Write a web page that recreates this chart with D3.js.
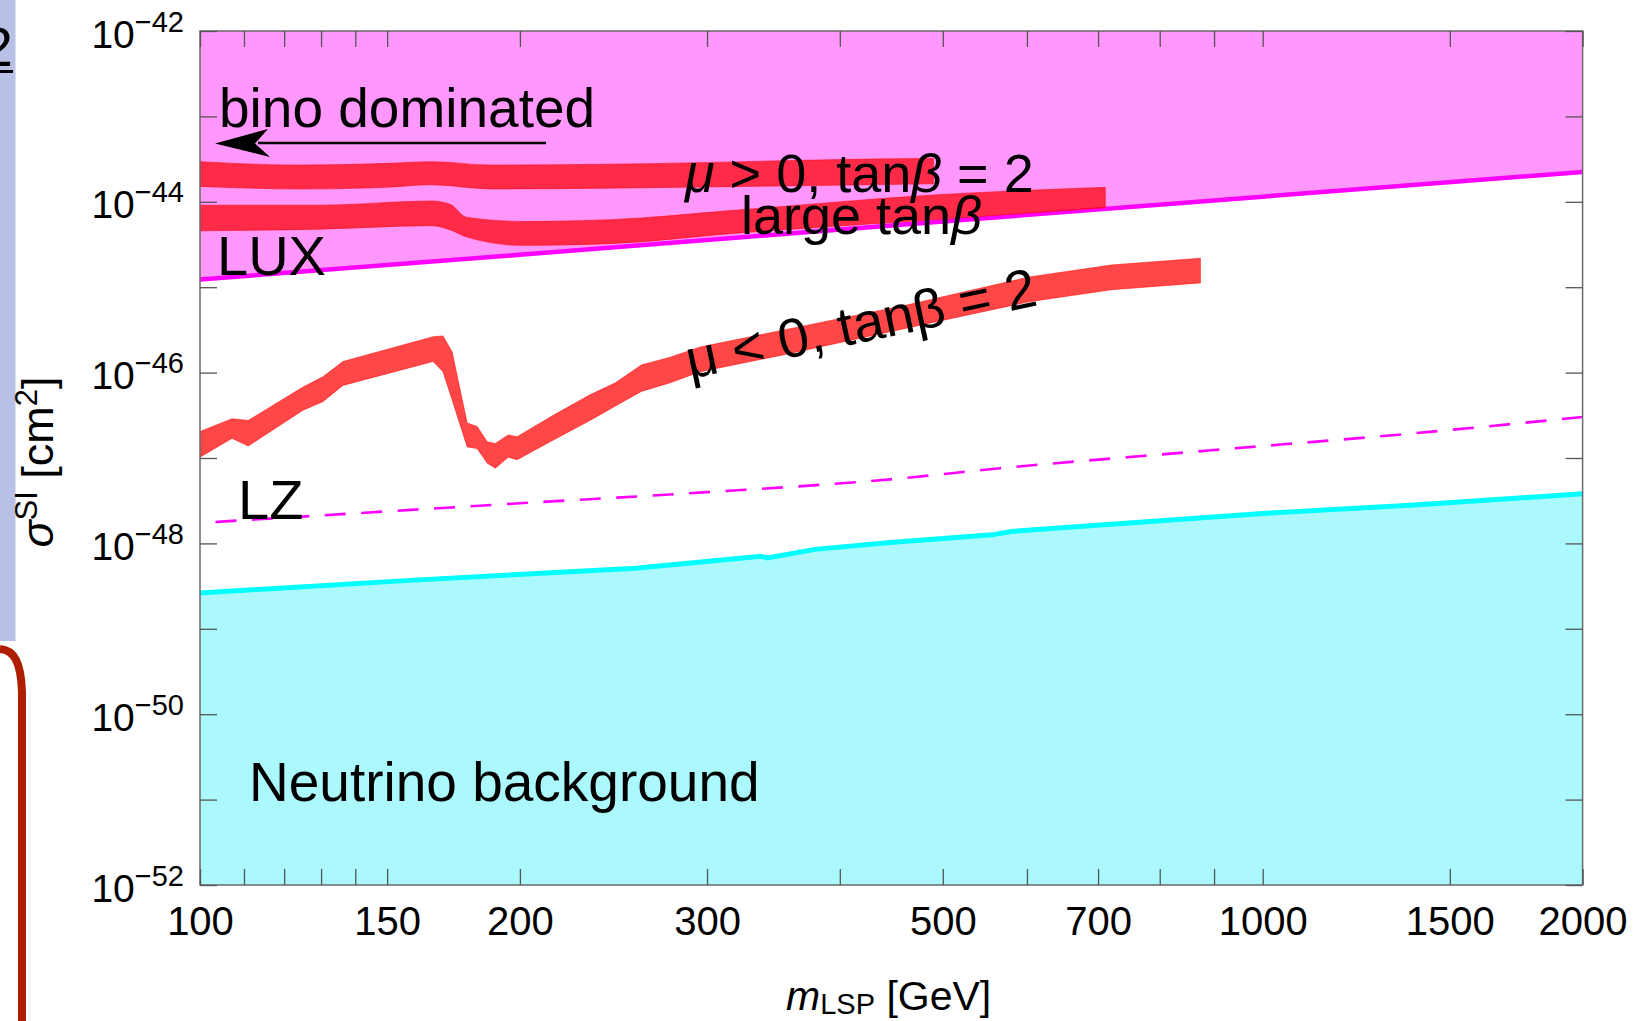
<!doctype html>
<html>
<head>
<meta charset="UTF-8">
<title>SI cross section vs LSP mass</title>
<script src="https://d3js.org/d3.v7.min.js"></script>
<style>
	body { margin: 0; background: #fff; }
	.chart text { font-family: 'Liberation Sans', Arial, Helvetica, sans-serif; fill: #000; }
	.axis line { stroke: #555; stroke-width: 1.3; }
</style>
</head>
<body>
<svg class="chart" width="1638" height="1021"></svg>
<script>
// axis ticks
var massTicks = [100, 110, 120, 130, 140, 150, 200, 300, 400, 500, 600, 700, 800, 900, 1000, 1500, 2000];
var massLabels = [100, 150, 200, 300, 500, 700, 1000, 1500, 2000];
var sigmaTicks = [-52, -51, -50, -49, -48, -47, -46, -45, -44, -43, -42];
var sigmaLabels = [-52, -50, -48, -46, -44, -42];

// limits (log10 of sigma in cm^2)
var luxMass = [100, 200, 500, 1000, 2000];
var luxLog = [-44.91, -44.62, -44.23, -43.94, -43.65];

var lzMass = [100, 200, 300, 446, 566, 894, 1389, 2000];
var lzLog = [-47.76, -47.53, -47.40, -47.25, -47.12, -46.91, -46.71, -46.52];

var nuMass = [100, 159, 257, 337, 342, 379, 446, 556, 580, 1000, 1389, 2000];
var nuLog = [-48.58, -48.43, -48.29, -48.15, -48.17, -48.07, -47.99, -47.90, -47.86, -47.65, -47.55, -47.42];

// bands
var posMass = [100, 124, 150, 165, 188, 243, 424, 490];
var posUpper = [-43.53, -43.57, -43.55, -43.53, -43.57, -43.56, -43.50, -43.49];
var posLower = [-43.82, -43.85, -43.83, -43.80, -43.85, -43.84, -43.80, -43.79];

var largeMass = [100, 130, 165, 172, 178, 201, 243, 318, 490, 711];
var largeUpper = [-44.04, -44.04, -43.99, -44.03, -44.18, -44.23, -44.21, -44.10, -43.92, -43.83];
var largeLower = [-44.34, -44.32, -44.28, -44.33, -44.41, -44.51, -44.49, -44.37, -44.21, -44.07];

var negMass = [100, 107.2, 111, 125, 130.5, 136.3, 165.7, 169.3, 172.7, 178.4, 182.3, 186.3, 189.6, 195, 198.8, 215, 232.8, 246, 260.2, 277, 295.6, 354.6, 461.9, 603.1, 720.4, 873.8];
var negUpper = [-46.69, -46.54, -46.56, -46.17, -46.05, -45.87, -45.58, -45.57, -45.76, -46.59, -46.63, -46.81, -46.83, -46.73, -46.75, -46.50, -46.26, -46.12, -45.91, -45.82, -45.70, -45.50, -45.21, -44.88, -44.74, -44.66];
var negLower = [-46.99, -46.77, -46.86, -46.44, -46.34, -46.15, -45.87, -45.99, -46.32, -46.87, -46.89, -47.06, -47.12, -46.99, -47.02, -46.79, -46.56, -46.39, -46.22, -46.12, -45.99, -45.79, -45.48, -45.17, -45.03, -44.95];

var chart = d3.select('.chart');
var plotLeft = 200, plotRight = 1582.6, plotTop = 31, plotBottom = 885;

var x = d3.scaleLog().domain([100, 2000]).range([plotLeft, plotRight]);
var y = d3.scaleLog().domain([1e-52, 1e-42]).range([plotBottom, plotTop]);

function line(mass, logs) {
	return mass.map(function(m, i) { return [m, Math.pow(10, logs[i])]; });
}
function band(mass, lo, hi) {
	return mass.map(function(m, i) { return {m: m, lo: Math.pow(10, lo[i]), hi: Math.pow(10, hi[i])}; });
}

// slide decorations at the left edge
chart.append('rect').attr('x', 0).attr('y', 0).attr('width', 15.5).attr('height', 641).attr('fill', '#b8c0e5');
chart.append('text').attr('x', 13).attr('y', 66).attr('text-anchor', 'end')
	.attr('font-size', 56).text('2');
chart.append('line').attr('x1', 0).attr('x2', 13).attr('y1', 71.5).attr('y2', 71.5)
	.attr('stroke', '#000').attr('stroke-width', 3);
chart.append('path').attr('d', 'M0,649 C14,650 21,662 22,692 L22,1021')
	.attr('fill', 'none').attr('stroke', '#b01e00').attr('stroke-width', 8);

chart.append('clipPath').attr('id', 'plot')
	.append('rect').attr('x', plotLeft).attr('y', plotTop)
	.attr('width', plotRight - plotLeft).attr('height', plotBottom - plotTop);

var plot = chart.append('g').attr('clip-path', 'url(#plot)');

function lineGen(curve) {
	return d3.line().x(function(d) { return x(d[0]); }).y(function(d) { return y(d[1]); }).curve(curve);
}

// LUX excluded region
plot.append('path')
	.datum(line(luxMass, luxLog))
	.attr('fill', '#ff97fd')
	.attr('d', d3.area().x(function(d) { return x(d[0]); }).y0(function(d) { return y(d[1]); }).y1(plotTop));

// neutrino floor
plot.append('path')
	.datum(line(nuMass, nuLog))
	.attr('fill', '#abf9fc')
	.attr('d', d3.area().x(function(d) { return x(d[0]); }).y0(plotBottom).y1(function(d) { return y(d[1]); }));

plot.append('path')
	.datum(line(luxMass, luxLog))
	.attr('fill', 'none').attr('stroke', '#ff00ff').attr('stroke-width', 4.5)
	.attr('d', lineGen(d3.curveLinear));

plot.append('path')
	.datum(line(nuMass, nuLog))
	.attr('fill', 'none').attr('stroke', '#00ffff').attr('stroke-width', 5)
	.attr('d', lineGen(d3.curveLinear));

plot.append('path')
	.datum(line(lzMass, lzLog))
	.attr('fill', 'none').attr('stroke', '#ff00ff').attr('stroke-width', 2.6)
	.attr('stroke-dasharray', '21,15.5').attr('stroke-dashoffset', 21)
	.attr('d', lineGen(d3.curveMonotoneX));

function areaGen(curve) {
	return d3.area()
		.x(function(d) { return x(d.m); })
		.y0(function(d) { return y(d.lo); })
		.y1(function(d) { return y(d.hi); })
		.curve(curve);
}

var bands = [
	{data: band(posMass, posLower, posUpper), curve: d3.curveMonotoneX},
	{data: band(largeMass, largeLower, largeUpper), curve: d3.curveMonotoneX},
	{data: band(negMass, negLower, negUpper), curve: d3.curveLinear}
];
bands.forEach(function(b) {
	plot.append('path')
		.datum(b.data)
		.attr('fill', '#ff0000').attr('fill-opacity', 0.72)
		.attr('stroke', '#ff0000').attr('stroke-opacity', 0.5).attr('stroke-width', 1)
		.attr('d', areaGen(b.curve));
});

// frame
chart.append('rect')
	.attr('x', plotLeft).attr('y', plotTop)
	.attr('width', plotRight - plotLeft).attr('height', plotBottom - plotTop)
	.attr('fill', 'none').attr('stroke', '#6a6a6a').attr('stroke-width', 1.5);

// axes
var xb = chart.append('g').attr('class', 'axis')
	.attr('transform', 'translate(0,' + plotBottom + ')')
	.call(d3.axisBottom(x).tickValues(massTicks).tickSize(-16).tickPadding(22)
		.tickFormat(function(d) { return massLabels.indexOf(d) >= 0 ? d : ''; }));
xb.select('.domain').remove();
xb.selectAll('text').style('font-size', '40px');

var xt = chart.append('g').attr('class', 'axis')
	.attr('transform', 'translate(0,' + plotTop + ')')
	.call(d3.axisTop(x).tickValues(massTicks).tickSize(-16).tickFormat(''));
xt.select('.domain').remove();

var sigmaVals = sigmaTicks.map(function(e) { return Math.pow(10, e); });

var yl = chart.append('g').attr('class', 'axis')
	.attr('transform', 'translate(' + plotLeft + ',0)')
	.call(d3.axisLeft(y).tickValues(sigmaVals).tickSize(-17).tickFormat(''));
yl.select('.domain').remove();
yl.selectAll('.tick').each(function(d) {
	var e = Math.round(Math.log10(d));
	if (sigmaLabels.indexOf(e) < 0) return;
	var t = d3.select(this).append('text')
		.attr('x', -16).attr('y', 16).attr('text-anchor', 'end');
	t.append('tspan').attr('font-size', 39).text('10');
	t.append('tspan').attr('font-size', 29).attr('dy', -16).text('\u2212' + Math.abs(e));
});

var yr = chart.append('g').attr('class', 'axis')
	.attr('transform', 'translate(' + plotRight + ',0)')
	.call(d3.axisRight(y).tickValues(sigmaVals).tickSize(-17).tickFormat(''));
yr.select('.domain').remove();

// axis titles
var xt2 = chart.append('text').attr('x', 786).attr('y', 1010).attr('font-size', 41);
xt2.append('tspan').attr('font-style', 'italic').text('m');
xt2.append('tspan').attr('font-size', 29).attr('dy', 4).text('LSP');
xt2.append('tspan').attr('dy', -4).text(' [GeV]');

var yt = chart.append('text').attr('transform', 'translate(53,462) rotate(-90)')
	.attr('text-anchor', 'middle').attr('font-size', 45);
yt.append('tspan').attr('font-style', 'italic').text('\u03c3');
yt.append('tspan').attr('font-size', 31).attr('dy', -16).text('SI');
yt.append('tspan').attr('dy', 16).text(' [cm');
yt.append('tspan').attr('font-size', 31).attr('dy', -16).text('2');
yt.append('tspan').attr('dy', 16).text(']');

// annotations
chart.append('text').attr('x', 219).attr('y', 127).attr('font-size', 55).text('bino dominated');
chart.append('line').attr('x1', 546).attr('x2', 258).attr('y1', 143).attr('y2', 143)
	.attr('stroke', '#000').attr('stroke-width', 2.5);
chart.append('path').attr('d', 'M215,143.5 L268,129 L255,143.5 L270,157 Z').attr('fill', '#000');

chart.append('text').attr('x', 217).attr('y', 275).attr('font-size', 56).text('LUX');

var t1 = chart.append('text').attr('x', 685).attr('y', 192).attr('font-size', 54);
t1.append('tspan').attr('font-style', 'italic').text('\u03bc');
t1.append('tspan').text(' > 0, tan');
t1.append('tspan').attr('font-style', 'italic').text('\u03b2');
t1.append('tspan').text(' = 2');

var t2 = chart.append('text').attr('x', 741).attr('y', 234).attr('font-size', 54);
t2.append('tspan').text('large tan');
t2.append('tspan').attr('font-style', 'italic').text('\u03b2');

chart.append('text').attr('transform', 'translate(690,379) rotate(-12)')
	.attr('font-size', 55).text('\u03bc < 0, tan\u03b2 = 2');

chart.append('text').attr('x', 238).attr('y', 519).attr('font-size', 56).text('LZ');
chart.append('text').attr('x', 249).attr('y', 801).attr('font-size', 55).text('Neutrino background');
</script>
</body>
</html>
